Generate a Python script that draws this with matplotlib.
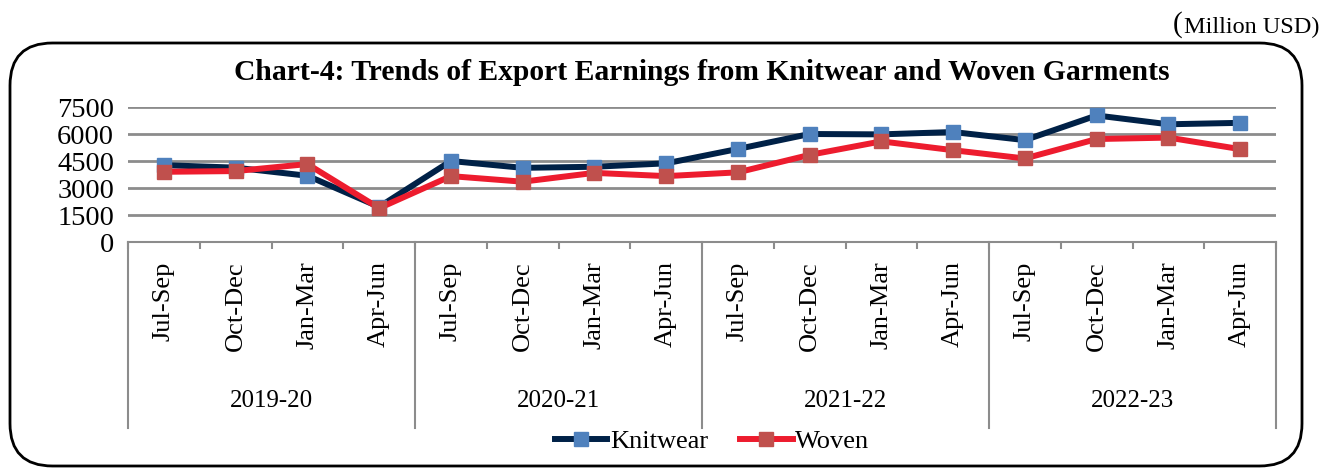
import matplotlib
matplotlib.use("Agg")
import matplotlib.pyplot as plt
from matplotlib.patches import FancyBboxPatch
from matplotlib.lines import Line2D
import matplotlib.transforms as mtransforms

quarters = ["Jul-Sep", "Oct-Dec", "Jan-Mar", "Apr-Jun"]
years = ["2019-20", "2020-21", "2021-22", "2022-23"]
knitwear = [4270, 4130, 3680, 1950, 4500, 4120, 4180, 4370,
            5170, 6000, 5980, 6110, 5660, 7030, 6540, 6620]
woven = [3900, 3940, 4330, 1880, 3660, 3350, 3840, 3660,
         3870, 4840, 5590, 5100, 4640, 5720, 5800, 5160]
yticks = [0, 1500, 3000, 4500, 6000, 7500]

plt.rcParams['font.family'] = ['Liberation Serif', 'DejaVu Serif']

W, H = 1328, 469
fig = plt.figure(figsize=(W / 100, H / 100), dpi=100)

# rounded border
box = FancyBboxPatch((10 / W, 3 / H), (1302 - 10) / W, (426 - 3) / H,
                     boxstyle="round,pad=0,rounding_size=0.032",
                     transform=fig.transFigure, fill=False, lw=2.0,
                     edgecolor='black', mutation_aspect=W / H)
fig.patches.append(box)

fig.text(1319 / W, 1 - 27 / H, "Million USD)", ha='right', va='center', fontsize=17.5)
fig.text(1182 / W, 1 - 25 / H, "(", ha='right', va='center', fontsize=21)
fig.text(702 / W, 1 - 73 / H,
         "Chart-4: Trends of Export Earnings from Knitwear and Woven Garments",
         ha='center', va='center', fontsize=21.3, fontweight='bold')

left, right, top, bottom = 128, 1276, 107, 242
ax = fig.add_axes([left / W, 1 - bottom / H, (right - left) / W, (bottom - top) / H])

n = len(knitwear)
x = list(range(n))
ax.plot(x, knitwear, color='#002147', lw=4.3, marker='s', ms=10,
        mfc='#4f81bd', mec='#4f81bd', zorder=3, label='Knitwear', solid_joinstyle='miter')
ax.plot(x, woven, color='#ed1c2e', lw=4.3, marker='s', ms=10,
        mfc='#c0504d', mec='#c0504d', zorder=4, label='Woven', solid_joinstyle='miter')

ax.set_xlim(-0.5, n - 0.5)
ax.set_ylim(0, 7500)
ax.set_yticks(yticks)
ax.set_yticklabels([str(v) for v in yticks], fontsize=20.5)
ax.tick_params(axis='y', length=0, pad=10)
ax.grid(axis='y', color='#8c8c8c', lw=2)
ax.set_axisbelow(True)
for s in ['top', 'right', 'left']:
    ax.spines[s].set_visible(False)
ax.spines['bottom'].set_color('#8c8c8c')
ax.spines['bottom'].set_linewidth(1.5)

labels = [q for _ in years for q in quarters]
ax.set_xticks(x)
ax.set_xticklabels(labels, rotation=90, fontsize=19)
ax.tick_params(axis='x', which='major', length=0, pad=14)
ax.set_xticks([i - 0.5 for i in range(n + 1)], minor=True)
ax.tick_params(axis='x', which='minor', length=5, color='#8c8c8c', width=1.5)

trans = mtransforms.blended_transform_factory(ax.transData, ax.transAxes)
axh = (bottom - top)
depth = -(428 - bottom) / axh
nq = len(quarters)
for k in range(len(years) + 1):
    xb = k * nq - 0.5
    ax.add_line(Line2D([xb, xb], [0, depth], transform=trans, color='#8c8c8c',
                       lw=1.5, clip_on=False))
for k, yr in enumerate(years):
    xc = k * nq + (nq - 1) / 2
    ax.text(xc, -(401 - bottom) / axh, yr, transform=trans, ha='center',
            va='center', fontsize=18)

leg = fig.legend(handles=ax.get_lines()[:2], loc='center', bbox_to_anchor=(712 / W, 1 - 441 / H),
                 ncol=2, frameon=False, fontsize=19, handlelength=2.0,
                 columnspacing=1.2, handletextpad=0.1, borderaxespad=0)

fig.savefig("out.png", dpi=100)
